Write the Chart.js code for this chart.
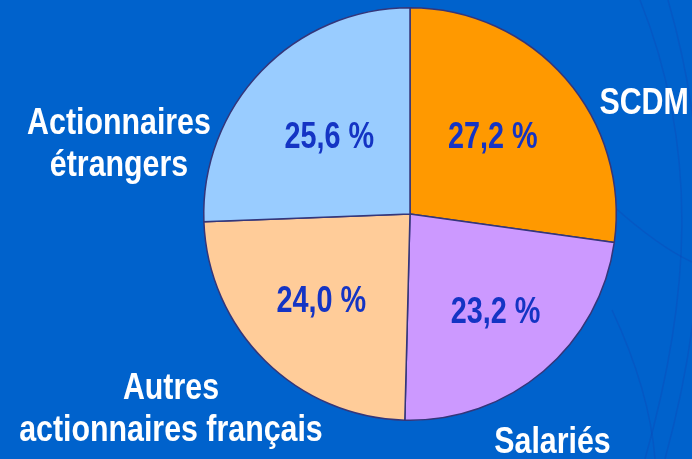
<!DOCTYPE html>
<html>
<head>
<meta charset="utf-8">
<script src="https://cdn.jsdelivr.net/npm/chart.js@4/dist/chart.umd.min.js"></script>
<style>
  html, body { margin: 0; padding: 0; background: #0062CC; }
  #wrap { width: 692px; height: 459px; position: relative; }
</style>
</head>
<body>
<div id="wrap"><canvas id="c" width="692" height="459"></canvas></div>
<script>
const categories = ["SCDM", "Salariés", "Autres actionnaires français", "Actionnaires étrangers"];
const outerLabelLines = [["SCDM"], ["Salariés"], ["Autres", "actionnaires français"], ["Actionnaires", "étrangers"]];
const shares = [27.2, 23.2, 24.0, 25.6];
const valueLabels = ["27,2 %", "23,2 %", "24,0 %", "25,6 %"];
const sliceColors = ["#FF9900", "#CC99FF", "#FFCC99", "#99CCFF"];

// label anchor offsets, in units of the pie radius, relative to the pie centre
const outerOffsets = [[1.135, -0.546], [0.691, 1.097], [-1.159, 0.937], [-1.411, -0.348]];
const innerOffsets = [[0.401, -0.382], [0.415, 0.465], [-0.430, 0.411], [-0.391, -0.382]];

const FONT_FAMILY = "'Liberation Sans', Arial, sans-serif";
const CONDENSE = 0.82;

function condensedText(ctx, text, x, y, sx) {
  ctx.save();
  ctx.translate(x, y);
  ctx.scale(sx, 1);
  ctx.fillText(text, 0, 0);
  ctx.restore();
}

const backdropPlugin = {
  id: 'backdrop',
  beforeDraw(chart) {
    const ctx = chart.ctx;
    ctx.save();
    ctx.strokeStyle = 'rgba(25, 55, 170, 0.22)';
    ctx.lineWidth = 1.5;
    const curves = [
      [[640, 0], [700, 150], [690, 300], [645, 459]],
      [[668, 0], [720, 180], [700, 330], [665, 459]],
      [[612, 205], [640, 230], [670, 252], [692, 262]],
      [[612, 310], [640, 370], [652, 420], [655, 459]]
    ];
    curves.forEach(c => {
      ctx.beginPath();
      ctx.moveTo(c[0][0], c[0][1]);
      ctx.bezierCurveTo(c[1][0], c[1][1], c[2][0], c[2][1], c[3][0], c[3][1]);
      ctx.stroke();
    });
    ctx.restore();
  }
};

const labelPlugin = {
  id: 'pieLabels',
  afterDatasetsDraw(chart) {
    const ctx = chart.ctx;
    const meta = chart.getDatasetMeta(0);
    ctx.save();
    ctx.textAlign = 'center';
    ctx.textBaseline = 'alphabetic';
    meta.data.forEach((arc, i) => {
      const p = arc.getProps(['x', 'y', 'outerRadius'], true);
      const r = p.outerRadius;
      const vx = p.x + innerOffsets[i][0] * r;
      const vy = p.y + innerOffsets[i][1] * r;
      ctx.font = "bold 36px " + FONT_FAMILY;
      ctx.fillStyle = "#1434C4";
      condensedText(ctx, valueLabels[i], vx, vy + 13, 0.8);
      const lines = outerLabelLines[i];
      const lh = 42;
      const cx = p.x + outerOffsets[i][0] * r;
      const cy = p.y + outerOffsets[i][1] * r;
      ctx.font = "bold 37px " + FONT_FAMILY;
      ctx.fillStyle = "#FFFFFF";
      lines.forEach((t, k) => {
        const ly = cy + (k - (lines.length - 1) / 2) * lh;
        condensedText(ctx, t, cx, ly + 13, CONDENSE);
      });
    });
    ctx.restore();
  }
};

new Chart(document.getElementById('c'), {
  type: 'pie',
  data: {
    labels: categories,
    datasets: [{
      data: shares,
      backgroundColor: sliceColors,
      borderColor: "#34367A",
      borderWidth: 1.5
    }]
  },
  options: {
    responsive: false,
    animation: false,
    rotation: 0,
    layout: { padding: { left: 203, right: 75, top: 7, bottom: 38 } },
    plugins: { legend: { display: false }, tooltip: { enabled: false } }
  },
  plugins: [backdropPlugin, labelPlugin]
});
</script>
</body>
</html>
